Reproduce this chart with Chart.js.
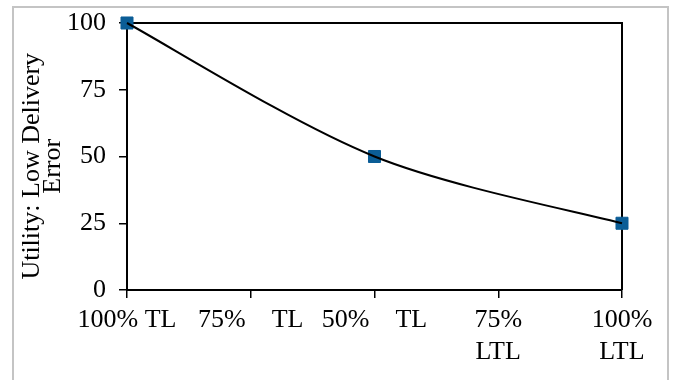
<!DOCTYPE html>
<html>
<head>
<meta charset="utf-8">
<script src="https://cdn.jsdelivr.net/npm/chart.js@4"></script>
<style>
    body { margin: 0; background: #ffffff; overflow: hidden; }
    #wrap { position: relative; width: 674px; height: 380px; overflow: hidden; }
    #frame {
        position: absolute; left: 12px; top: 6px; width: 653px; height: 420px;
        border: 2px solid #c4c4c4;
    }
    #chart { position: absolute; left: 0; top: 0; }
</style>
</head>
<body>
<div id="wrap">
    <div id="frame"></div>
    <canvas id="chart" width="674" height="380"></canvas>
</div>
<script>
const categories = ["100% TL", "75%    TL", "50%    TL", ["75%", "LTL"], ["100%", "LTL"]];
const utility = [100, null, 50, null, 25];
const yTicks = [0, 25, 50, 75, 100];
const yTitle = ["Utility: Low Delivery   ", "Error   "];

const serif = "'Liberation Serif', 'Times New Roman', serif";
const markerColor = "#0b5d96";

// top and right edges of the plot box
const plotBox = {
    id: "plotBox",
    beforeDatasetsDraw(chart) {
        const a = chart.chartArea;
        const ctx = chart.ctx;
        ctx.save();
        ctx.strokeStyle = "#000000";
        ctx.lineWidth = 2;
        ctx.beginPath();
        ctx.moveTo(a.left, a.top);
        ctx.lineTo(a.right, a.top);
        ctx.lineTo(a.right, a.bottom);
        ctx.stroke();
        ctx.restore();
    }
};

// shorter end handles, like the office smoothed line
const smoothEnds = {
    id: "smoothEnds",
    beforeDatasetDraw(chart, args) {
        if (args.index !== 0) return;
        const line = args.meta.dataset;
        line.updateControlPoints(chart.chartArea);
        const pts = line.points.filter(p => !p.skip);
        const n = pts.length;
        if (n < 3) return;
        pts[0].cp2x = pts[0].x + (pts[1].x - pts[0].x) / 6;
        pts[0].cp2y = pts[0].y + (pts[1].y - pts[0].y) / 6;
        pts[n - 1].cp1x = pts[n - 1].x - (pts[n - 1].x - pts[n - 2].x) / 6;
        pts[n - 1].cp1y = pts[n - 1].y - (pts[n - 1].y - pts[n - 2].y) / 6;
        line._path = undefined;
    }
};

new Chart(document.getElementById("chart"), {
    type: "line",
    data: {
        labels: categories,
        datasets: [
            {
                data: utility,
                borderColor: "#000000",
                borderWidth: 2,
                tension: 0.32,
                spanGaps: true,
                pointRadius: 0,
                fill: false,
                clip: false,
                order: 1
            },
            {
                data: utility,
                showLine: false,
                pointStyle: "rect",
                pointRadius: 8.5,
                pointBackgroundColor: markerColor,
                pointBorderColor: markerColor,
                pointBorderWidth: 1,
                clip: false,
                order: 2
            }
        ]
    },
    options: {
        responsive: false,
        devicePixelRatio: 1,
        animation: false,
        layout: { padding: { top: 23, right: 52, bottom: 0, left: 0 } },
        plugins: {
            legend: { display: false },
            tooltip: { enabled: false }
        },
        scales: {
            x: {
                offset: false,
                afterFit: (scale) => {
                    scale.height = 90;
                    scale.paddingLeft = 0;
                    scale.paddingRight = 0;
                },
                grid: {
                    drawOnChartArea: false,
                    drawTicks: true,
                    tickLength: 8,
                    color: "#000000",
                    lineWidth: 1.5
                },
                border: { color: "#000000", width: 2 },
                ticks: {
                    autoSkip: false,
                    maxRotation: 0,
                    padding: 6,
                    color: "#000000",
                    font: { family: serif, size: 26, lineHeight: "32px" }
                }
            },
            y: {
                min: 0,
                max: 100,
                afterFit: (scale) => {
                    scale.width = 127;
                    scale.paddingTop = 0;
                    scale.paddingBottom = 0;
                },
                afterBuildTicks: (scale) => { scale.ticks = yTicks.map(v => ({ value: v })); },
                grid: {
                    drawOnChartArea: false,
                    drawTicks: true,
                    tickLength: 8,
                    color: "#000000",
                    lineWidth: 1.5
                },
                border: { color: "#000000", width: 2 },
                ticks: {
                    padding: 13,
                    color: "#000000",
                    font: { family: serif, size: 26 }
                },
                title: {
                    display: true,
                    text: yTitle,
                    color: "#000000",
                    padding: { top: 22, bottom: 0 },
                    font: { family: serif, size: 26, lineHeight: "21px" }
                }
            }
        }
    },
    plugins: [plotBox, smoothEnds]
});
</script>
</body>
</html>
